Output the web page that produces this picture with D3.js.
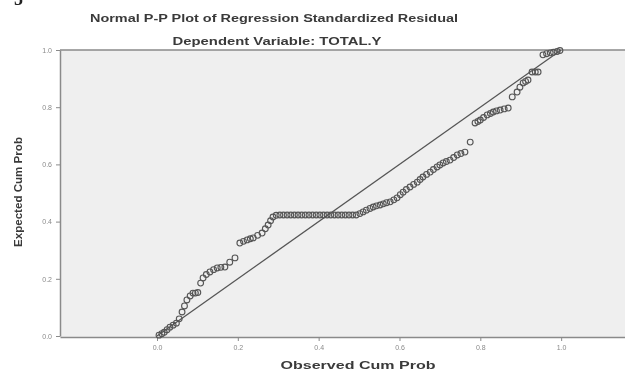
<!DOCTYPE html>
<html>
<head>
<meta charset="utf-8">
<script src="https://cdn.jsdelivr.net/npm/d3@7"></script>
<style>
  body { margin: 0; background: #fff; }
  svg { display: block; font-family: "Liberation Sans", Arial, sans-serif; }
</style>
</head>
<body>
<div id="chart"></div>
<script>
// observed cumulative probability (x) and expected cumulative probability (y)
const observed = [
  0.005, 0.012, 0.018, 0.025, 0.032, 0.040, 0.048, 0.055, 0.062, 0.068,
  0.074, 0.082, 0.089, 0.095, 0.101, 0.108, 0.114, 0.122, 0.131, 0.140,
  0.149, 0.158, 0.168, 0.180, 0.193, 0.205, 0.214, 0.223, 0.231, 0.238,
  0.249, 0.260, 0.268, 0.275, 0.281, 0.287, 0.295, 0.304, 0.313, 0.322,
  0.331, 0.340, 0.349, 0.358, 0.367, 0.376, 0.385, 0.394, 0.403, 0.412,
  0.421, 0.430, 0.439, 0.448, 0.457, 0.466, 0.475, 0.484, 0.493, 0.502,
  0.510, 0.518, 0.527, 0.535, 0.543, 0.552, 0.560, 0.568, 0.577, 0.586,
  0.594, 0.602, 0.609, 0.617, 0.626, 0.635, 0.644, 0.651, 0.658, 0.667,
  0.676, 0.684, 0.693, 0.700, 0.708, 0.716, 0.725, 0.734, 0.743, 0.752,
  0.762, 0.775, 0.787, 0.794, 0.800, 0.808, 0.817, 0.825, 0.832, 0.840,
  0.849, 0.859, 0.869, 0.879, 0.891, 0.898, 0.906, 0.912, 0.918, 0.928,
  0.936, 0.943, 0.955, 0.964, 0.973, 0.981, 0.990, 0.997
];
const expected = [
  0.003, 0.008, 0.013, 0.022, 0.031, 0.038, 0.045, 0.060, 0.084, 0.105,
  0.126, 0.140, 0.150, 0.150, 0.152, 0.185, 0.203, 0.215, 0.224, 0.232,
  0.238, 0.240, 0.241, 0.258, 0.273, 0.325, 0.331, 0.336, 0.340, 0.343,
  0.352, 0.360, 0.375, 0.388, 0.403, 0.416, 0.422, 0.423, 0.423, 0.423,
  0.423, 0.423, 0.423, 0.423, 0.423, 0.423, 0.423, 0.423, 0.423, 0.423,
  0.423, 0.423, 0.423, 0.423, 0.423, 0.423, 0.423, 0.423, 0.423, 0.428,
  0.434, 0.440, 0.446, 0.451, 0.455, 0.458, 0.462, 0.466, 0.469, 0.476,
  0.483, 0.494, 0.503, 0.512, 0.521, 0.530, 0.538, 0.547, 0.556, 0.565,
  0.573, 0.582, 0.591, 0.598, 0.605, 0.610, 0.615, 0.624, 0.633, 0.638,
  0.643, 0.678, 0.745, 0.750, 0.755, 0.764, 0.773, 0.778, 0.783, 0.787,
  0.790, 0.794, 0.797, 0.836, 0.853, 0.870, 0.885, 0.890, 0.895, 0.923,
  0.923, 0.923, 0.983, 0.987, 0.990, 0.992, 0.995, 0.998
];
const ticks = [0.0, 0.2, 0.4, 0.6, 0.8, 1.0];
const refLine = [0, 1];

const W = 625, H = 371;
const mLeft = 60, mTop = 50, mBottom = 337, mRight = 625;

const svg = d3.select('#chart').append('svg')
  .attr('width', W)
  .attr('height', H)
  .style('filter', 'blur(0.6px)');

const x = d3.scaleLinear().domain([-0.24, 1.158]).range([mLeft, mRight]);
const y = d3.scaleLinear().domain([0, 1]).range([336, mTop]);

// plot background
svg.append('rect')
  .attr('x', mLeft).attr('y', mTop)
  .attr('width', mRight - mLeft).attr('height', mBottom - mTop)
  .attr('fill', '#efefef');

// top border
svg.append('line')
  .attr('x1', mLeft).attr('x2', mRight)
  .attr('y1', mTop).attr('y2', mTop)
  .attr('stroke', '#8a8a8a').attr('stroke-width', 1.5);

const yAxis = svg.append('g')
  .attr('transform', `translate(${mLeft},0)`)
  .call(d3.axisLeft(y).tickValues(ticks).tickFormat(d3.format('.1f')).tickSize(4).tickSizeOuter(0));
const xAxis = svg.append('g')
  .attr('transform', `translate(0,${mBottom})`)
  .call(d3.axisBottom(x).tickValues(ticks).tickFormat(d3.format('.1f')).tickSize(4).tickSizeOuter(0));

[xAxis, yAxis].forEach(a => {
  a.select('.domain').attr('stroke', '#8a8a8a').attr('stroke-width', 1.5);
  a.selectAll('.tick line').attr('stroke', '#8a8a8a');
  a.selectAll('.tick text').attr('fill', '#8a8a8a').attr('font-size', '7px');
});
yAxis.selectAll('.tick text').attr('x', -8);
xAxis.selectAll('.tick text').attr('y', 8);

// diagonal reference line
svg.append('line')
  .attr('x1', x(refLine[0])).attr('y1', y(refLine[0]))
  .attr('x2', x(refLine[1])).attr('y2', y(refLine[1]))
  .attr('stroke', '#555').attr('stroke-width', 1.3);

// points
svg.append('g').selectAll('circle')
  .data(d3.range(observed.length))
  .enter()
  .append('circle')
  .attr('cx', i => x(observed[i]))
  .attr('cy', i => y(expected[i]))
  .attr('r', 2.9)
  .attr('fill', 'none')
  .attr('stroke', '#555')
  .attr('stroke-width', 1.1);

// titles
svg.append('text')
  .attr('x', 274).attr('y', 22)
  .attr('text-anchor', 'middle')
  .attr('font-size', '11px').attr('font-weight', 'bold').attr('fill', '#3a3a3a')
  .attr('textLength', 368).attr('lengthAdjust', 'spacingAndGlyphs')
  .text('Normal P-P Plot of Regression Standardized Residual');

svg.append('text')
  .attr('x', 277).attr('y', 45)
  .attr('text-anchor', 'middle')
  .attr('font-size', '11px').attr('font-weight', 'bold').attr('fill', '#3a3a3a')
  .attr('textLength', 209).attr('lengthAdjust', 'spacingAndGlyphs')
  .text('Dependent Variable: TOTAL.Y');

svg.append('text')
  .attr('x', 358).attr('y', 369)
  .attr('text-anchor', 'middle')
  .attr('font-size', '11px').attr('font-weight', 'bold').attr('fill', '#3a3a3a')
  .attr('textLength', 155).attr('lengthAdjust', 'spacingAndGlyphs')
  .text('Observed Cum Prob');

svg.append('text')
  .attr('transform', 'translate(22,192) rotate(-90)')
  .attr('text-anchor', 'middle')
  .attr('font-size', '10px').attr('font-weight', 'bold').attr('fill', '#3a3a3a')
  .attr('textLength', 110).attr('lengthAdjust', 'spacingAndGlyphs')
  .text('Expected Cum Prob');

// figure number fragment at the very top (clipped in the source image)
svg.append('text')
  .attr('x', 14).attr('y', 5)
  .attr('font-family', '"Liberation Serif", serif')
  .attr('font-size', '18px').attr('font-weight', 'bold').attr('fill', '#222')
  .text('5');
</script>
</body>
</html>
